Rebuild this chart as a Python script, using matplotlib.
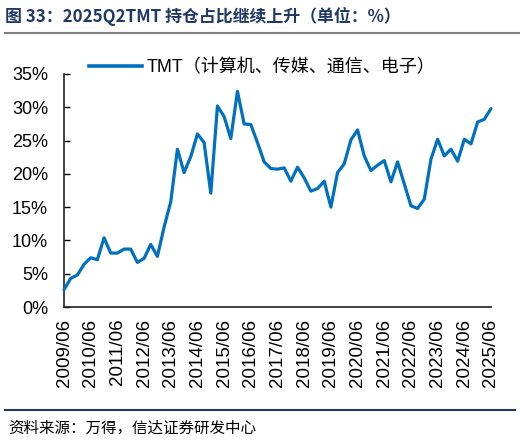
import matplotlib
matplotlib.use("Agg")
import matplotlib.pyplot as plt
from matplotlib.ticker import FuncFormatter, FixedLocator
from matplotlib.lines import Line2D

# ---- data (TMT holding share, %), quarterly 2009Q2 .. 2025Q2 ----
years = list(range(2009, 2026))
quarter_labels = [f"{y}/{m:02d}" for y in range(2009, 2026) for m in (3, 6, 9, 12)][1:-2]
tmt_share = [
    2.6, 4.3, 4.8, 6.4, 7.4, 7.1, 10.4, 8.1, 8.1, 8.7,
    8.7, 6.7, 7.3, 9.4, 7.6, 12.0, 15.8, 23.7, 20.2, 22.6,
    26.0, 24.7, 17.1, 30.2, 28.6, 25.3, 32.4, 27.5, 27.4, 24.7,
    21.8, 20.8, 20.7, 20.9, 18.9, 21.0, 19.4, 17.4, 17.8, 18.9,
    15.0, 20.2, 21.5, 25.1, 26.6, 22.7, 20.5, 21.3, 22.0, 18.8,
    21.8, 18.5, 15.2, 14.8, 16.2, 22.2, 25.2, 22.7, 23.7, 21.9,
    25.2, 24.5, 27.8, 28.2, 29.8,
]
year_tick_labels = [f"{y}/06" for y in years]
y_ticks = [0, 5, 10, 15, 20, 25, 30, 35]

series_name = "TMT（计算机、传媒、通信、电子）"
title_text = "图 33：2025Q2TMT 持仓占比继续上升（单位：%）"
source_text = "资料来源：万得，信达证券研发中心"

LINE_COLOR = "#0070C0"
NAVY = "#1F3864"
CJK = ["Noto Sans CJK SC", "DejaVu Sans"]
LAT = ["Liberation Sans", "Noto Sans CJK SC", "DejaVu Sans"]

plt.rcParams["font.family"] = LAT

W, H = 520, 441
fig = plt.figure(figsize=(W / 100, H / 100), dpi=100)
fig.patch.set_facecolor("white")

ax = fig.add_axes([64 / W, 1 - 307 / H, (491 - 64) / W, (307 - 74) / H])
x = list(range(len(tmt_share)))
ax.plot(x, tmt_share, color=LINE_COLOR, linewidth=2.3, solid_joinstyle="round",
        solid_capstyle="round", clip_on=False, zorder=3)

ax.set_xlim(0, len(tmt_share) - 1)
ax.set_ylim(0, 35)
ax.yaxis.set_major_locator(FixedLocator(y_ticks))
ax.yaxis.set_major_formatter(FuncFormatter(lambda v, p: f"{v:.0f}%"))
year_pos = [quarter_labels.index(lbl) for lbl in year_tick_labels]
ax.set_xticks(year_pos)
ax.set_xticklabels(year_tick_labels, rotation=90, fontsize=13.5)

for s in ("top", "right"):
    ax.spines[s].set_visible(False)
for s in ("left", "bottom"):
    ax.spines[s].set_color("#222222")
    ax.spines[s].set_linewidth(1.2)

ax.tick_params(axis="y", direction="in", length=4.5, width=1, pad=11.5,
               labelsize=13, colors="black")
ax.tick_params(axis="x", length=0, pad=8.5, colors="black")

# legend
handle = Line2D([], [], color=LINE_COLOR, linewidth=2.6)
leg = fig.legend([handle], [series_name], loc="center left",
                 bbox_to_anchor=(82 / W, 1 - 68 / H), frameon=False,
                 handlelength=2.9, handletextpad=0.3, borderaxespad=0,
                 prop={"family": LAT, "size": 13})

# title and rules
fig.text(5 / W, 1 - 16 / H, title_text, fontsize=12.2, fontweight="bold",
         color=NAVY, family=CJK, va="center", ha="left")
fig.add_artist(Line2D([5 / W, 1.0], [1 - 33 / H, 1 - 33 / H], color="#7F7F7F",
                      linewidth=1.5, transform=fig.transFigure))
fig.add_artist(Line2D([5 / W, 515 / W], [1 - 410 / H, 1 - 410 / H], color=NAVY,
                      linewidth=1.5, transform=fig.transFigure))
fig.text(8 / W, 1 - 428 / H, source_text, fontsize=11.2, color="black",
         family=CJK, va="center", ha="left")

fig.savefig("out.png", dpi=100, facecolor="white")
